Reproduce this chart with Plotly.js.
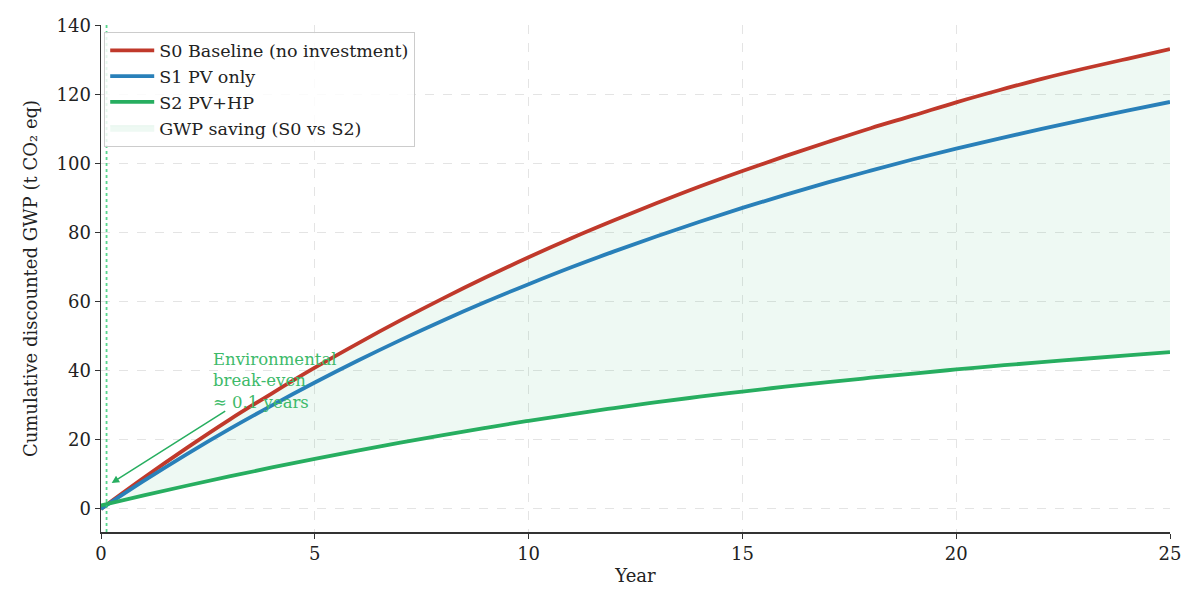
<!DOCTYPE html>
<html>
<head>
<meta charset="utf-8">
<script src="https://cdn.plot.ly/plotly-3.0.1.min.js"></script>
<style>
  html, body { margin: 0; padding: 0; background: #fff; }
  #plot { width: 1200px; height: 610px; }
</style>
</head>
<body>
<div id="plot"></div>
<script>
// values, one per year
const years = [0,1,2,3,4,5,6,7,8,9,10,11,12,13,14,15,16,17,18,19,20,21,22,23,24,25];
const s0 = [0, 9.0, 17.6, 25.8, 33.5, 40.9, 47.9, 54.6, 61.0, 67.1, 72.9, 78.4, 83.6, 88.6, 93.4, 97.9,
            102.2, 106.3, 110.3, 114.0, 117.8, 121.3, 124.6, 127.6, 130.4, 133.2];
const s1 = [0, 8.1, 15.8, 23.1, 30.0, 36.6, 42.9, 48.9, 54.6, 60.0, 65.1, 70.0, 74.6, 79.0, 83.2, 87.2,
            91.0, 94.6, 98.0, 101.3, 104.4, 107.3, 110.1, 112.8, 115.4, 117.9];
const s2 = [1.0, 3.9, 6.7, 9.4, 12.0, 14.5, 16.9, 19.2, 21.4, 23.5, 25.5, 27.4, 29.2, 30.9, 32.5, 34.0,
            35.4, 36.7, 38.0, 39.2, 40.4, 41.5, 42.5, 43.5, 44.5, 45.4];
const breakEven = 0.13; // year where S2 drops below S0
const yTicks = [0, 20, 40, 60, 80, 100, 120, 140];
const xTicks = [0, 5, 10, 15, 20, 25];

const RED = '#c0392b', BLUE = '#2980b9', GREEN = '#27ae60';
const FONT = 'DejaVu Serif, serif';

var traces = [
  // base for the shaded area (hidden)
  {x: years, y: s2, type: 'scatter', mode: 'lines', line: {width: 0}, showlegend: false, hoverinfo: 'skip'},
  {x: years, y: s0, type: 'scatter', mode: 'lines', line: {width: 0.5, color: 'rgba(39,174,96,0.15)'},
   fill: 'tonexty', fillcolor: 'rgba(39,174,96,0.08)', name: 'GWP saving (S0 vs S2)', legendrank: 4},
  {x: years, y: s0, type: 'scatter', mode: 'lines', line: {color: RED, width: 3.8, shape: 'spline'},
   name: 'S0 Baseline (no investment)', legendrank: 1},
  {x: years, y: s1, type: 'scatter', mode: 'lines', line: {color: BLUE, width: 3.8, shape: 'spline'},
   name: 'S1 PV only', legendrank: 2},
  {x: years, y: s2, type: 'scatter', mode: 'lines', line: {color: GREEN, width: 3.8, shape: 'spline'},
   name: 'S2 PV+HP', legendrank: 3}
];

var layout = {
  width: 1200, height: 610,
  margin: {l: 101, r: 30, t: 25, b: 78},
  paper_bgcolor: '#fff', plot_bgcolor: '#fff',
  font: {family: FONT, size: 18, color: '#222'},
  showlegend: true,
  legend: {
    x: 0.003, y: 0.987, xanchor: 'left', yanchor: 'top', traceorder: 'normal',
    bgcolor: 'rgba(255,255,255,0.85)', bordercolor: '#cccccc', borderwidth: 1,
    font: {family: FONT, size: 17.5, color: '#222'},
    itemwidth: 44, tracegroupgap: 0
  },
  xaxis: {
    range: [0, 25], tickvals: xTicks, ticks: 'outside', ticklen: 5, tickcolor: '#333',
    showline: true, linecolor: '#333', linewidth: 1.5, zeroline: false,
    showgrid: true, gridcolor: '#e4e4e4', griddash: 'dash', gridwidth: 1,
    title: {text: 'Year', font: {family: FONT, size: 18}, standoff: 6},
    tickfont: {family: FONT, size: 18}
  },
  yaxis: {
    range: [-6.7, 140.2], tickvals: yTicks, ticks: 'outside', ticklen: 5, tickcolor: '#333',
    showline: true, linecolor: '#333', linewidth: 1.5, zeroline: false,
    showgrid: true, gridcolor: '#e4e4e4', griddash: 'dash', gridwidth: 1,
    title: {text: 'Cumulative discounted GWP (t CO₂ eq)', font: {family: FONT, size: 18}, standoff: 14},
    tickfont: {family: FONT, size: 18}
  },
  shapes: [
    {type: 'line', xref: 'x', yref: 'paper', x0: breakEven, x1: breakEven, y0: 0, y1: 1,
     line: {color: '#2ecc71', width: 1.8, dash: 'dot'}, opacity: 0.8}
  ],
  annotations: [
    {x: 0.25, y: 7.5, ax: 2.94, ay: 28.6, xref: 'x', yref: 'y', axref: 'x', ayref: 'y',
     text: '', showarrow: true, arrowhead: 2, arrowsize: 1, arrowwidth: 1.5, arrowcolor: GREEN},
    {x: 2.58, y: 46.5, xref: 'x', yref: 'y', xanchor: 'left', yanchor: 'top', align: 'left',
     text: 'Environmental<br>break-even<br>≈ 0.1 years', showarrow: false,
     font: {family: FONT, size: 16.5, color: '#3dba6a'}}
  ]
};

Plotly.newPlot('plot', traces, layout, {displayModeBar: false, staticPlot: true});
</script>
</body>
</html>
